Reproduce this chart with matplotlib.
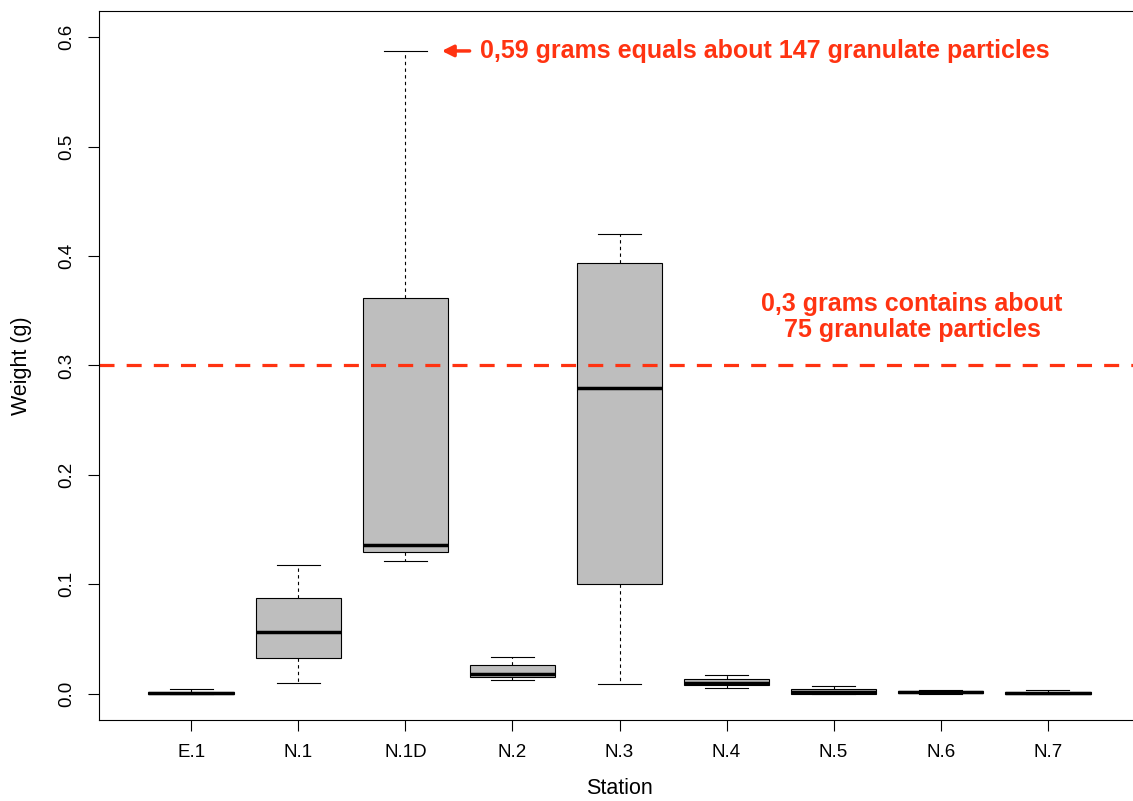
import matplotlib
matplotlib.use('Agg')
import matplotlib.pyplot as plt

plt.rcParams['font.family'] = ['Liberation Sans', 'DejaVu Sans']

stations = ['E.1', 'N.1', 'N.1D', 'N.2', 'N.3', 'N.4', 'N.5', 'N.6', 'N.7']
whisker_low = [0.0, 0.0101, 0.1210, 0.0124, 0.0085, 0.0055, 0.0, 0.0, 0.0]
q1 = [0.0, 0.0329, 0.1293, 0.0155, 0.0999, 0.0076, 0.0, 0.0003, 0.0]
median = [0.0007, 0.0560, 0.1357, 0.0183, 0.2792, 0.0101, 0.0015, 0.0015, 0.0005]
q3 = [0.0018, 0.0872, 0.3616, 0.0265, 0.3935, 0.0137, 0.0039, 0.0027, 0.0015]
whisker_high = [0.0040, 0.1174, 0.5875, 0.0332, 0.4201, 0.0174, 0.0073, 0.0030, 0.0037]

threshold = 0.3
yticks = [0.0, 0.1, 0.2, 0.3, 0.4, 0.5, 0.6]
ytick_labels = ['0.0', '0.1', '0.2', '0.3', '0.4', '0.5', '0.6']

RED = '#FF3311'

fig = plt.figure(figsize=(11.33, 8.01), dpi=100)
W, H = 1133, 801
ax = fig.add_axes([99 / W, (H - 720) / H, 1041 / W, 709 / H])

stats = [dict(label=s, whislo=a, q1=b, med=c, q3=d, whishi=e, fliers=[])
         for s, a, b, c, d, e in zip(stations, whisker_low, q1, median, q3, whisker_high)]
positions = list(range(1, len(stations) + 1))
ax.bxp(stats, positions=positions, widths=0.8, capwidths=0.4, patch_artist=True,
       showfliers=False,
       boxprops=dict(facecolor='#BEBEBE', edgecolor='black', linewidth=0.8),
       medianprops=dict(color='black', linewidth=2.5, solid_capstyle='butt'),
       whiskerprops=dict(color='black', linewidth=0.8, linestyle=(0, (3, 3))),
       capprops=dict(color='black', linewidth=0.8))

ax.set_xlim(0.138, 9.862)
ax.set_ylim(-0.024, 0.624)
ax.set_yticks(yticks)
ax.set_yticklabels(ytick_labels)
ax.set_xticks(positions)
ax.set_xticklabels(stations)
ax.tick_params(axis='both', length=8, width=0.8, labelsize=13.5, color='black')
ax.tick_params(axis='y', pad=9)
ax.tick_params(axis='x', pad=9)
plt.setp(ax.get_yticklabels(), rotation=90, va='center')
for sp in ax.spines.values():
    sp.set_linewidth(0.8)
    sp.set_color('black')

ax.axhline(threshold, color=RED, linewidth=2.3, linestyle=(0, (4.7, 3.8)))

# annotations
ax.annotate('', xy=(3.34, whisker_high[2]), xytext=(3.60, whisker_high[2]),
            arrowprops=dict(arrowstyle='-|>', color=RED, lw=2.5, mutation_scale=17,
                            shrinkA=0, shrinkB=0))
ax.text(3.697, whisker_high[2], '0,59 grams equals about 147 granulate particles',
        color=RED, fontsize=18, fontweight='bold', ha='left', va='center')
ax.text(7.732, 0.344, '0,3 grams contains about\n75 granulate particles',
        color=RED, fontsize=18, fontweight='bold', ha='center', va='center',
        linespacing=1.12)

fig.text(619.5 / W, 1 - 789 / H, 'Station', fontsize=15.5, ha='center', va='center')
fig.text(22 / W, 1 - 365.5 / H, 'Weight (g)', fontsize=15.5, ha='center', va='center',
         rotation=90)

fig.savefig('out.png', dpi=100)
